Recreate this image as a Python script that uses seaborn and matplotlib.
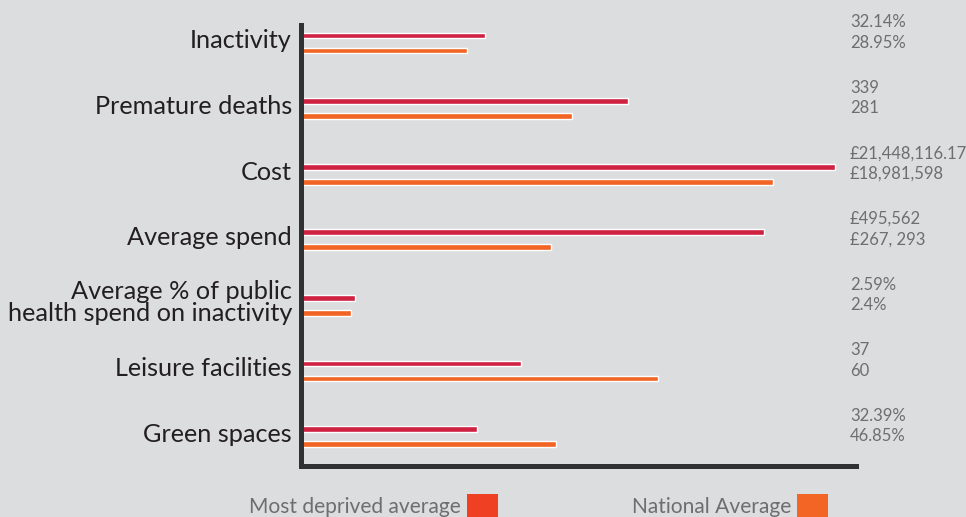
import matplotlib
matplotlib.use("Agg")
import matplotlib.pyplot as plt
import matplotlib.transforms as mtransforms
from matplotlib.patches import Patch
import numpy as np
import pandas as pd
import seaborn as sns

# ---- data -------------------------------------------------------------
categories = [
    "Inactivity",
    "Premature deaths",
    "Cost",
    "Average spend",
    "Average % of public\nhealth spend on inactivity",
    "Leisure facilities",
    "Green spaces",
]
series = ["Most deprived average", "National Average"]

deprived_values = [32.14, 339, 21448116.17, 495562, 2.59, 37, 32.39]
national_values = [28.95, 281, 18981598, 267293, 2.4, 60, 46.85]

deprived_labels = ["32.14%", "339", "£21,448,116.17", "£495,562", "2.59%", "37", "32.39%"]
national_labels = ["28.95%", "281", "£18,981,598", "£267, 293", "2.4%", "60", "46.85%"]

# each row has its own unit: the value a full-width bar stands for
row_full_scale = [96.8, 576, 22.3e6, 594500, 26.8, 93.4, 102]

# ---- styling ------------------------------------------------------------
BG = "#dcdddf"
BAR_COLORS = ["#cf2142", "#f26424"]
KEY_COLORS = ["#f04023", "#f26524"]
AXIS_COLOR = "#323132"
TEXT_DARK = "#231f20"
TEXT_GREY = "#6d6e70"

sns.set_theme(style="white")
plt.rcParams["font.family"] = ["Lato", "DejaVu Sans"]

rows = []
for cat, d, n, full in zip(categories, deprived_values, national_values, row_full_scale):
    rows.append({"category": cat, "series": series[0], "share": d / full * 100})
    rows.append({"category": cat, "series": series[1], "share": n / full * 100})
df = pd.DataFrame(rows)

fig = plt.figure(figsize=(9.66, 5.17), dpi=100, facecolor=BG)
ax = fig.add_axes([301 / 966, 1 - 466 / 517, 555 / 966, 441 / 517])
ax.set_facecolor(BG)

sns.barplot(
    data=df, y="category", x="share", hue="series", orient="h",
    palette=BAR_COLORS, width=0.46, gap=0.62, legend=False,
    saturation=1, ax=ax,
)

ax.set_xlim(0, 100)
ax.set_ylim(6.45, -0.275)
ax.set_xlabel("")
ax.set_ylabel("")
ax.set_xticks([])

for side in ("top", "right"):
    ax.spines[side].set_visible(False)
for side in ("left", "bottom"):
    ax.spines[side].set_color(AXIS_COLOR)
    ax.spines[side].set_linewidth(3.6)

ax.tick_params(axis="y", length=0, pad=6.5)
label_shift = mtransforms.ScaledTranslation(0, 3 / 72, fig.dpi_scale_trans)
for lbl in ax.get_yticklabels():
    lbl.set_fontsize(18.2)
    lbl.set_color(TEXT_DARK)
    lbl.set_linespacing(0.95)
    lbl.set_transform(lbl.get_transform() + label_shift)

# value labels to the right of the bars
trans = mtransforms.blended_transform_factory(ax.transAxes, ax.transData)
for i, (a, b) in enumerate(zip(deprived_labels, national_labels)):
    ax.text(0.989, i - 0.16, f"{a}\n{b}", transform=trans, ha="left", va="center",
            fontsize=12.0, color=TEXT_GREY, linespacing=1.36, clip_on=False)

handles = [Patch(facecolor=c, edgecolor="none") for c in KEY_COLORS]
fig.legend(
    handles, series, loc="upper left", bbox_to_anchor=(249 / 966, 1 - 494 / 517),
    ncol=2, markerfirst=False, frameon=False,
    prop={"size": 15.1}, labelcolor=TEXT_GREY,
    handlelength=1.48, handleheight=1.4, handletextpad=0.28,
    columnspacing=6.4, borderaxespad=0, borderpad=0,
)

fig.savefig("out.png", dpi=100, facecolor=BG)
